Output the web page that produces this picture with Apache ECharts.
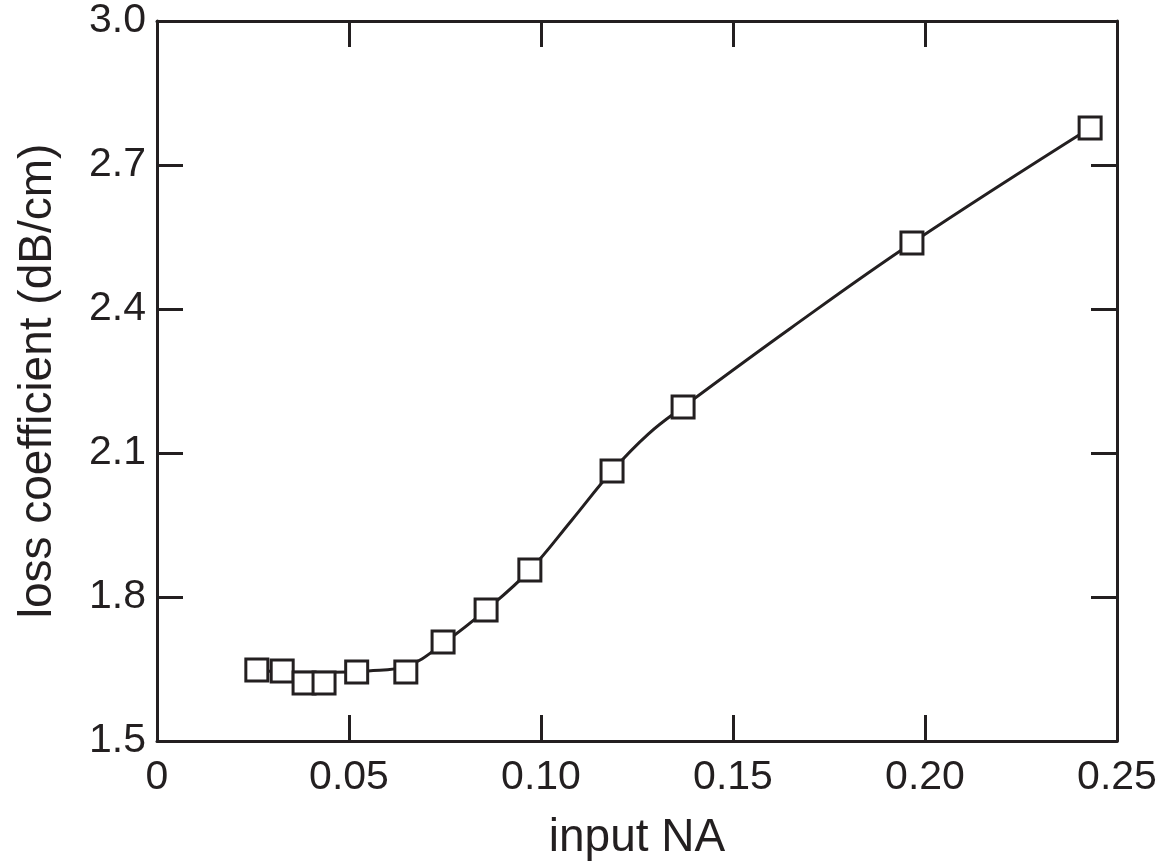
<!DOCTYPE html>
<html>
<head>
<meta charset="utf-8">
<script src="https://cdn.jsdelivr.net/npm/echarts@6/dist/echarts.min.js"></script>
<style>
  html, body { margin: 0; padding: 0; background: #fff; }
  #chart { width: 1164px; height: 866px; }
</style>
</head>
<body>
<div id="chart"></div>
<script>
// measured points
const naValues = [0.026, 0.0326, 0.0383, 0.0435, 0.052, 0.0648, 0.0745, 0.0857, 0.0971, 0.1185, 0.137, 0.1966, 0.243]
const lossValues = [1.648, 1.646, 1.621, 1.621, 1.644, 1.644, 1.706, 1.773, 1.856, 2.0625, 2.196, 2.5375, 2.777]

// smooth fitted curve
const fitNA = [0.026, 0.035, 0.045, 0.055, 0.065, 0.075, 0.0857, 0.0971, 0.108, 0.1185, 0.128, 0.137, 0.165, 0.1966, 0.243]
const fitLoss = [1.648, 1.643, 1.643, 1.646, 1.656, 1.706, 1.773, 1.856, 1.96, 2.0625, 2.14, 2.196, 2.36, 2.5375, 2.777]

const xTicks = [0, 0.05, 0.10, 0.15, 0.20, 0.25]
const yTicks = [1.5, 1.8, 2.1, 2.4, 2.7, 3.0]

const ink = '#231f20'
const font = 'Liberation Sans, Arial, Helvetica, sans-serif'

const chart = echarts.init(document.getElementById('chart'))

function xAxisBase (pos, showLabels) {
  return {
    type: 'value',
    position: pos,
    min: xTicks[0],
    max: xTicks[xTicks.length - 1],
    interval: 0.05,
    axisLine: { show: true, onZero: false, lineStyle: { color: ink, width: 3 } },
    axisTick: { show: true, inside: true, length: 26, lineStyle: { color: ink, width: 3 } },
    splitLine: { show: false },
    axisLabel: {
      show: showLabels,
      color: ink,
      fontFamily: font,
      fontSize: 41,
      margin: 16,
      formatter: function (v) { return v === 0 ? '0' : v.toFixed(2) }
    }
  }
}

function yAxisBase (pos, showLabels) {
  return {
    type: 'value',
    position: pos,
    min: yTicks[0],
    max: yTicks[yTicks.length - 1],
    interval: 0.3,
    axisLine: { show: true, onZero: false, lineStyle: { color: ink, width: 3 } },
    axisTick: { show: true, inside: true, length: 26, lineStyle: { color: ink, width: 3 } },
    splitLine: { show: false },
    axisLabel: {
      show: showLabels,
      color: ink,
      fontFamily: font,
      fontSize: 41,
      margin: 11,
      formatter: function (v) { return v.toFixed(1) }
    }
  }
}

const bottomX = xAxisBase('bottom', true)
bottomX.name = 'input NA'
bottomX.nameLocation = 'middle'
bottomX.nameGap = 74
bottomX.nameTextStyle = { color: ink, fontFamily: font, fontSize: 46 }

const leftY = yAxisBase('left', true)
leftY.name = 'loss coefficient (dB/cm)'
leftY.nameLocation = 'middle'
leftY.nameGap = 96
leftY.nameTextStyle = { color: ink, fontFamily: font, fontSize: 46 }

const option = {
  backgroundColor: '#fff',
  animation: false,
  grid: { left: 157, top: 21, right: 47, bottom: 125, containLabel: false },
  xAxis: [bottomX, xAxisBase('top', false)],
  yAxis: [leftY, yAxisBase('right', false)],
  series: [
    {
      name: 'fit',
      type: 'line',
      smooth: 0.4,
      showSymbol: false,
      lineStyle: { color: ink, width: 3 },
      data: fitNA.map((x, i) => [x, fitLoss[i]]),
      z: 2
    },
    {
      name: 'measured',
      type: 'scatter',
      symbol: 'rect',
      symbolSize: 22,
      itemStyle: { color: '#fff', borderColor: ink, borderWidth: 3, opacity: 1 },
      data: naValues.map((x, i) => [x, lossValues[i]]),
      z: 3
    }
  ]
}

chart.setOption(option)
</script>
</body>
</html>
